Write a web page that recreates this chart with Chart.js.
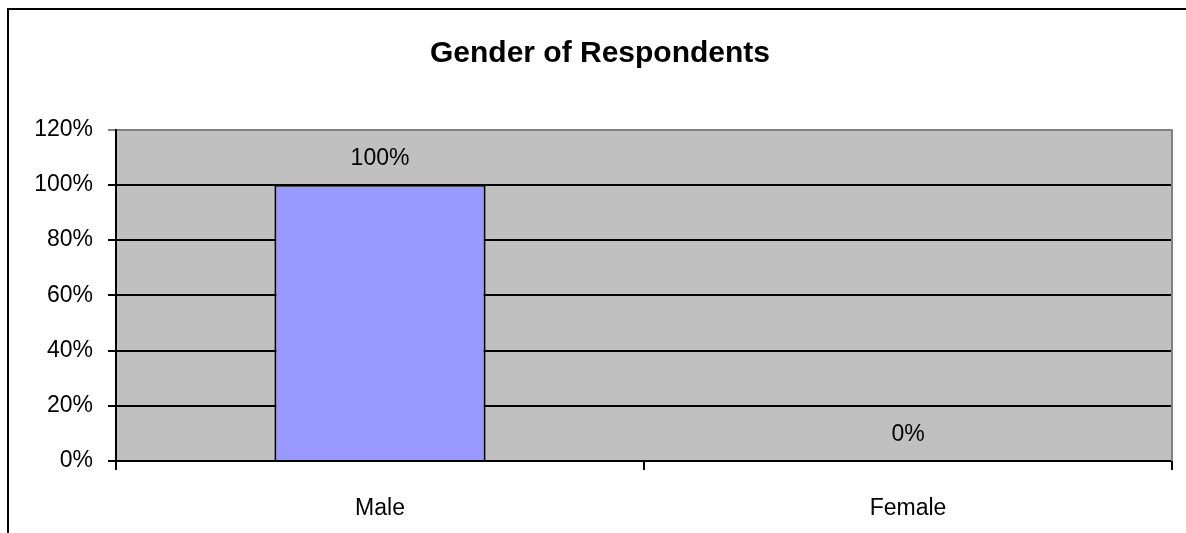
<!DOCTYPE html>
<html>
<head>
<meta charset="utf-8">
<title>Gender of Respondents</title>
<script src="https://cdn.jsdelivr.net/npm/chart.js@4"></script>
<style>
	body { margin: 0; background: #fff; }
	.chart-box { width: 1186px; height: 533px; position: relative; }
</style>
</head>
<body>
<div class="chart-box">
	<canvas id="myChartGender"></canvas>
</div>
<script>
// gender chart data
const categories = ['Male', 'Female'];
const genderValues = [100, 0];
const yTicks = [0, 20, 40, 60, 80, 100, 120];
const chartTitle = 'Gender of Respondents';

const fontFamily = "'Liberation Sans', Arial, sans-serif";

// gray plot area + outer frame + title + value labels (excel look)
const excelLook = {
	id: 'excelLook',
	beforeDraw(chart) {
		const { ctx, chartArea } = chart;
		ctx.save();
		ctx.fillStyle = '#C0C0C0';
		ctx.fillRect(chartArea.left, chartArea.top, chartArea.right - chartArea.left, chartArea.bottom - chartArea.top);
		ctx.restore();
	},
	afterDraw(chart) {
		const { ctx, chartArea } = chart;
		ctx.save();
		// right edge of plot
		ctx.strokeStyle = '#808080';
		ctx.lineWidth = 2;
		ctx.beginPath();
		ctx.moveTo(chartArea.right, chartArea.top);
		ctx.lineTo(chartArea.right, chartArea.bottom);
		ctx.stroke();
		// outer frame, top and left only
		ctx.strokeStyle = '#000';
		ctx.beginPath();
		ctx.moveTo(8, chart.height);
		ctx.lineTo(8, 9);
		ctx.lineTo(chart.width, 9);
		ctx.stroke();
		// title, centred on the frame
		ctx.fillStyle = '#000';
		ctx.textAlign = 'center';
		ctx.textBaseline = 'middle';
		ctx.font = 'bold 30px ' + fontFamily;
		ctx.fillText(chartTitle, 600, 54);
		// value labels
		const meta = chart.getDatasetMeta(0);
		const yScale = chart.scales.y;
		ctx.font = '23px ' + fontFamily;
		meta.data.forEach((bar, i) => {
			const v = genderValues[i];
			ctx.fillText(v + '%', bar.x, yScale.getPixelForValue(v) - 26);
		});
		ctx.restore();
	}
};

const data = {
	labels: categories,
	datasets: [{
		label: '',
		data: genderValues,
		backgroundColor: '#9999FF',
		borderColor: '#000',
		borderWidth: 2,
		categoryPercentage: 1,
		barPercentage: 0.4
	}]
};

const config = {
	type: 'bar',
	data: data,
	options: {
		responsive: true,
		maintainAspectRatio: false,
		animation: false,
		layout: {
			padding: { left: 0, right: 14, top: 129.5, bottom: 0 }
		},
		scales: {
			x: {
				afterFit: (scale) => { scale.height = 72; },
				grid: {
					offset: true,
					drawOnChartArea: false,
					drawTicks: true,
					tickLength: 9,
					color: '#000',
					lineWidth: 2
				},
				border: { color: '#000', width: 2 },
				ticks: {
					color: '#000',
					padding: 25,
					font: { family: fontFamily, size: 23 }
				}
			},
			y: {
				min: 0,
				max: 120,
				afterFit: (scale) => { scale.width = 116; },
				afterBuildTicks: (scale) => {
					scale.ticks = yTicks.map(v => ({ value: v }));
				},
				grid: {
					color: (c) => (c.tick && c.tick.value === 120 ? '#808080' : '#000'),
					lineWidth: 2,
					tickLength: 8
				},
				border: { color: '#000', width: 2 },
				ticks: {
					color: '#000',
					padding: 15,
					font: { family: fontFamily, size: 23 },
					callback: (v) => v + '%'
				}
			}
		},
		plugins: {
			legend: {
				display: false
			},
			tooltip: {
				enabled: false
			},
			title: {
				display: false
			}
		}
	},
	plugins: [excelLook]
};

// Get the canvas element and initialize the chart
document.addEventListener('DOMContentLoaded', () => {
	const ctx = document.getElementById('myChartGender').getContext('2d');
	new Chart(ctx, config);
});
</script>
</body>
</html>
